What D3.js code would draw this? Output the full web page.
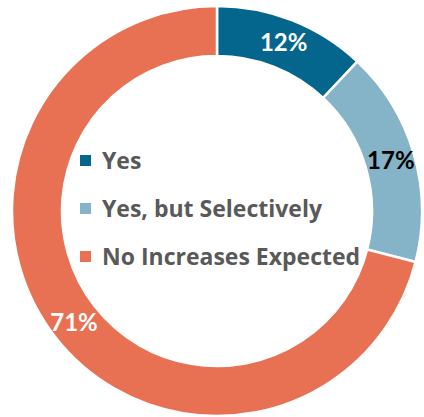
<!DOCTYPE html>
<html>
<head>
<meta charset="utf-8">
<script src="https://cdn.jsdelivr.net/npm/d3@7"></script>
<style>
  html, body { margin: 0; padding: 0; background: #fff; }
  svg { display: block; font-family: Lato, "Open Sans", sans-serif; }
</style>
</head>
<body>
<svg id="chart" width="424" height="417"></svg>
<script>
const categories = ["Yes", "Yes, but Selectively", "No Increases Expected"];
const shares = [12, 17, 71];
const labelColors = ["#fff", "#000", "#fff"];

const svg = d3.select("#chart"),
      cx = 217, cy = 211,
      outer = 205, inner = 155;

const color = d3.scaleOrdinal().domain(categories).range(["#05668d", "#85b3c8", "#e87053"]);

const data = categories.map((c, i) => ({ name: c, value: shares[i], labelColor: labelColors[i] }));

const pie = d3.pie().value(d => d.value).sort(null);
const arc = d3.arc().innerRadius(inner).outerRadius(outer);
const labelArc = d3.arc().innerRadius(181).outerRadius(181);

const g = svg.append("g").attr("transform", `translate(${cx},${cy})`);

const arcs = pie(data);

g.selectAll("path")
  .data(arcs)
  .join("path")
  .attr("d", arc)
  .attr("fill", d => color(d.data.name))
  .attr("stroke", "#fff")
  .attr("stroke-width", 2.5);

g.selectAll(".pct")
  .data(arcs)
  .join("text")
  .attr("class", "pct")
  .attr("transform", d => `translate(${labelArc.centroid(d)})`)
  .attr("text-anchor", "middle")
  .attr("dy", "0.36em")
  .attr("fill", d => d.data.labelColor)
  .style("font-size", "24px")
  .style("font-weight", "bold")
  .text(d => d.data.value + "%");

// legend inside the hole
const legend = svg.append("g").attr("transform", "translate(80,0)");
const rowY = d3.scalePoint().domain(categories).range([169, 265]);

const rows = legend.selectAll("g")
  .data(categories)
  .join("g")
  .attr("transform", d => `translate(0,${rowY(d)})`);

rows.append("rect")
  .attr("x", 0)
  .attr("y", -14)
  .attr("width", 11)
  .attr("height", 11)
  .attr("fill", d => color(d));

rows.append("text")
  .attr("x", 22)
  .attr("y", 0)
  .attr("fill", "#595959")
  .style("font-family", "'Open Sans', sans-serif")
  .style("font-size", "23px")
  .style("font-weight", "bold")
  .text(d => d);
</script>
</body>
</html>
